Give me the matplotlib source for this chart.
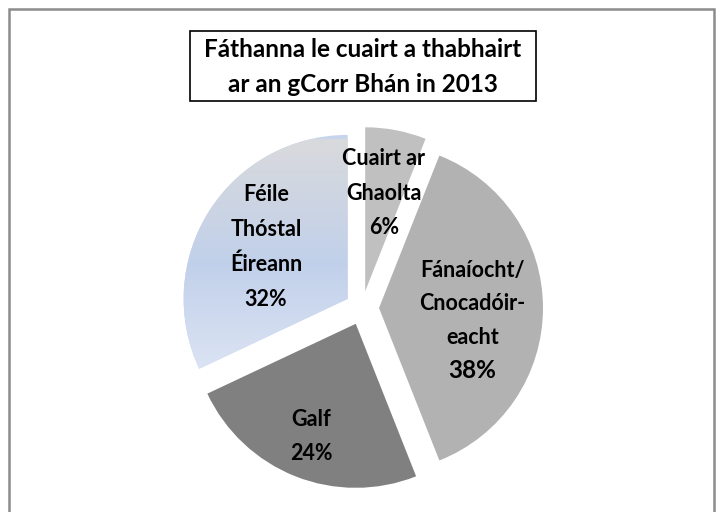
import numpy as np
import matplotlib
matplotlib.use("Agg")
import matplotlib.pyplot as plt
from matplotlib.colors import LinearSegmentedColormap
from matplotlib.patches import Rectangle

# Datos del gráfico
categorias = ["Cuairt ar\nGhaolta", "Fánaíocht/\nCnocadóir-\neacht", "Galf", "Féile\nThóstal\nÉireann"]
porcentajes = [6, 38, 24, 32]
colores = ["#c0c0c0", "#b2b2b2", "#808080", "#c6d4ec"]
titulo = "Fáthanna le cuairt a thabhairt\nar an gCorr Bhán in 2013"

plt.rcParams["font.family"] = ["Lato", "DejaVu Sans"]

fig = plt.figure(figsize=(7.18, 5.12), dpi=100)
ax = fig.add_axes([0, 0, 1, 1])

cx, cy, radio, sep = 362, 204, 164, 17

wedges, _ = ax.pie(porcentajes, colors=colores, startangle=90, counterclock=False,
                   radius=radio, center=(cx, cy), explode=[sep] * len(porcentajes),
                   frame=True)
ax.set_xlim(0, 718)
ax.set_ylim(0, 512)
ax.set_aspect("equal")
ax.axis("off")

# degradado para Féile
grad = LinearSegmentedColormap.from_list("feile", ["#d9dadc", "#c1d0ea", "#e0e7f5"])
w = wedges[3]
img = ax.imshow(np.linspace(0, 1, 256).reshape(-1, 1), cmap=grad, aspect="auto",
                extent=(cx - radio - 40, cx + 10, cy - 80, cy + radio + 5),
                origin="upper", zorder=w.get_zorder() + 0.1)
img.set_clip_path(w)

# etiquetas
dist_etiqueta = [0.61, 0.57, 0.74, 0.59]
fs = 15.5
ang = 90.0
for i, (lab, p) in enumerate(zip(categorias, porcentajes)):
    medio = np.deg2rad(ang - p * 3.6 / 2)
    ang -= p * 3.6
    ex = cx + sep * np.cos(medio)
    ey = cy + sep * np.sin(medio)
    tx = ex + dist_etiqueta[i] * radio * np.cos(medio)
    ty = ey + dist_etiqueta[i] * radio * np.sin(medio)
    if i == 1:
        ax.text(tx, ty + 4, lab, ha="center", va="center", fontsize=fs,
                fontweight="bold", linespacing=1.75, zorder=5)
        ax.text(tx, ty - 63, f"{p}%", ha="center", va="center", fontsize=17.5,
                fontweight="bold", zorder=5)
    else:
        ax.text(tx, ty, f"{lab}\n{p}%", ha="center", va="center", fontsize=fs,
                fontweight="bold", linespacing=1.8, zorder=5)

# título con recuadro
ax.add_patch(Rectangle((190, 512 - 101), 346, 70, fill=True, fc="white",
                       ec="black", lw=1.2, zorder=4))
ax.text(363, 512 - 67, titulo, ha="center", va="center", fontsize=17.5,
        fontweight="bold", linespacing=1.6, zorder=5)

# borde exterior
fig.patches.append(Rectangle((9 / 718, -0.05), 705 / 718, 1 - 9 / 512 + 0.05,
                             transform=fig.transFigure, fill=False, ec="#8c8c8c", lw=1.8))

fig.savefig("out.png", dpi=100)
